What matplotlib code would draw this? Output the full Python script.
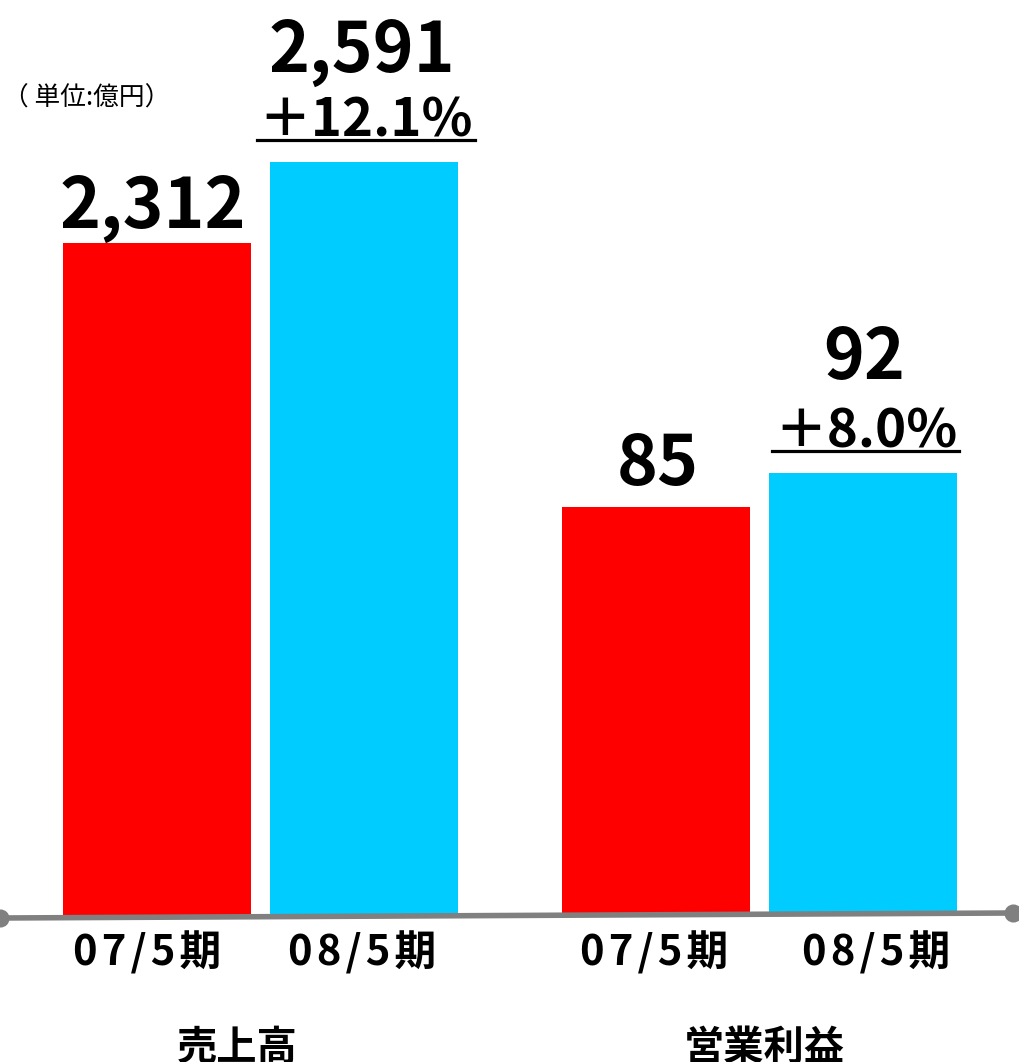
import numpy as np
import matplotlib.pyplot as plt
from matplotlib.lines import Line2D

plt.rcParams['font.family'] = ['Noto Sans CJK JP', 'DejaVu Sans']

# data
groups = ['売上高', '営業利益']
periods = ['07/5期', '08/5期']
sales = [2312, 2591]
profit = [85, 92]
growth = ['＋12.1%', '＋8.0%']
unit = '（ 単位:億円）'

W, H = 1019, 1062
fig = plt.figure(figsize=(W / 100, H / 100), dpi=100)

# axes: bottom at pixel row 915, top at row 0
base_px = 915
ax = fig.add_axes([0, 1 - base_px / H, 1, base_px / H])
ax2 = ax.twinx()
for a in (ax, ax2):
    a.set_axis_off()
    a.set_xlim(-0.758, 4.164)

# each group has its own scale (px per unit)
ax.set_ylim(0, sales[0] * base_px / 672)
ax2.set_ylim(0, profit[0] * base_px / 408)

gap = 2.41
colors = ['#FF0000', '#00CCFF']
x_sales = np.array([0, 1])
x_prof = x_sales + gap
ax.bar(x_sales, sales, width=0.908, color=colors)
ax2.bar(x_prof, profit, width=0.908, color=colors)

num_font = dict(fontsize=50, fontweight='bold', ha='center', va='baseline')
pct_font = dict(fontsize=38, fontweight='bold', ha='center', va='baseline')


def fmt(v):
    return f'{v:,}'


# value labels
ax.annotate(fmt(sales[0]), (x_sales[0], sales[0]), xytext=(-3, 10.8),
            textcoords='offset points', **num_font)
ax.annotate(fmt(sales[1]), (x_sales[1], sales[1]), xytext=(-1.5, 64.8),
            textcoords='offset points', **num_font)
t1 = ax.annotate(growth[0], (x_sales[1], sales[1]), xytext=(1.5, 18),
                 textcoords='offset points', **pct_font)
ax2.annotate(fmt(profit[0]), (x_prof[0], profit[0]), xytext=(1.5, 15.8),
             textcoords='offset points', **num_font)
ax2.annotate(fmt(profit[1]), (x_prof[1], profit[1]), xytext=(1, 67.7),
             textcoords='offset points', **num_font)
t2 = ax2.annotate(growth[1], (x_prof[1], profit[1]), xytext=(2, 18.7),
                  textcoords='offset points', **pct_font)

# period labels under each bar (hair spaces widen the tracking)
lab_font = dict(fontsize=30, fontweight='bold', ha='center', va='center')
lab_dx = [[-7, -1.5], [-1.5, 9.4]]
for xs, dxs in zip((x_sales, x_prof), lab_dx):
    for x, p, dx in zip(xs, periods, dxs):
        ax.annotate('\u200a'.join(p), (x, 0), xytext=(dx, -27.5),
                    textcoords='offset points', **lab_font)

# group labels
for g, xs, dx in zip(groups, (x_sales, x_prof), (-17, 3.5)):
    ax.annotate(g, (xs.mean(), 0), xytext=(dx, -96), textcoords='offset points',
                fontsize=29, fontweight='bold', ha='center', va='center')

fig.text(3 / W, 1 - 99 / H, unit, fontsize=18.5, va='center', ha='left')

# baseline with round ends
fig.add_artist(Line2D([0, 1013 / W], [1 - 918 / H, 1 - 913 / H], color='#808080',
                      lw=4, marker='o', markersize=12, transform=fig.transFigure))

# underline growth labels, 22px above the bar top
fig.canvas.draw()
for t, a, x, v in ((t1, ax, x_sales[1], sales[1]), (t2, ax2, x_prof[1], profit[1])):
    bb = t.get_window_extent()
    y = a.transData.transform((x, v))[1] + 22
    fig.add_artist(Line2D([bb.x0 - 2, bb.x1 + 2], [y, y], color='black', lw=2.3,
                          transform=None))

fig.savefig('out.png', dpi=100)
